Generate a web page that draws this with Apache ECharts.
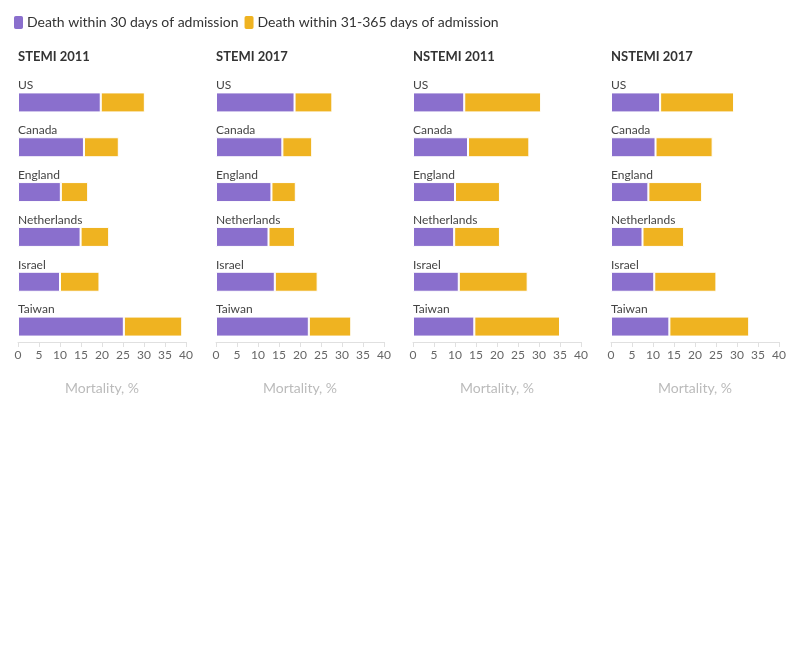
<!DOCTYPE html>
<html><head><meta charset="utf-8">
<script src="https://cdn.jsdelivr.net/npm/echarts@6/dist/echarts.min.js"></script>
<style>html,body{margin:0;padding:0;background:#fff}#c{width:796px;height:650px}</style>
</head><body><div id="c"></div>
<script>
const countries = ['US','Canada','England','Netherlands','Israel','Taiwan'];
const panelTitles = ['STEMI 2011','STEMI 2017','NSTEMI 2011','NSTEMI 2017'];
const seriesNames = ['Death within 30 days of admission','Death within 31-365 days of admission'];
const xTicks = [0,5,10,15,20,25,30,35,40];
// Death within 30 days (%)
const stemi2011_30 = [19.7,15.7,10.2,14.9,10.0,25.2];
const stemi2017_30 = [18.7,15.8,13.2,12.5,14.0,22.1];
const nstemi2011_30 = [12.2,13.1,10.0,9.8,10.9,14.6];
const nstemi2017_30 = [11.7,10.6,8.9,7.5,10.3,13.9];
// Death within 31-365 days (%)
const stemi2011_365 = [10.5,8.3,6.5,6.8,9.4,13.9];
const stemi2017_365 = [9.0,7.1,5.8,6.3,10.2,10.1];
const nstemi2011_365 = [18.3,14.6,10.7,10.9,16.4,20.4];
const nstemi2017_365 = [17.6,13.6,12.8,9.9,14.8,19.0];

const d30 = [stemi2011_30, stemi2017_30, nstemi2011_30, nstemi2017_30];
const d365 = [stemi2011_365, stemi2017_365, nstemi2011_365, nstemi2017_365];
const colors = ['#8a6fcd','#efb321'];
const FONT = 'Lato';
const lefts = [18,216,413,611];
const W = 168;

const grids=[], xAxes=[], yAxes=[], series=[], titles=[];
for (let i=0;i<4;i++){
  grids.push({left:lefts[i], top:80, width:W, height:269, containLabel:false});
  titles.push({text:panelTitles[i], left:lefts[i], top:50, padding:0,
    textStyle:{fontFamily:FONT,fontSize:13,fontWeight:'bold',color:'#333'}});
  xAxes.push({gridIndex:i, type:'value', min:xTicks[0], max:xTicks[xTicks.length-1], interval:5,
    offset:-7,
    axisLine:{show:true,lineStyle:{color:'#e0e0e0'}},
    axisTick:{show:true,length:5,lineStyle:{color:'#e0e0e0'}},
    axisLabel:{fontFamily:FONT,fontSize:12,color:'#666',margin:7},
    splitLine:{show:false},
    name:'Mortality, %', nameLocation:'middle', nameGap:39,
    nameTextStyle:{fontFamily:FONT,fontSize:14,color:'#bbb'}});
  yAxes.push({gridIndex:i, type:'category', data:countries, inverse:true,
    axisLine:{show:false}, axisTick:{show:false},
    axisLabel:{inside:true, margin:0, align:'left', verticalAlign:'bottom',
      padding:[0,0,11,0], fontFamily:FONT, fontSize:12, color:'#444'}});
  for (let s=0;s<2;s++){
    series.push({type:'bar', name:seriesNames[s], xAxisIndex:i, yAxisIndex:i, stack:'p'+i,
      data:(s===0?d30:d365)[i], barWidth:20,
      itemStyle:{color:colors[s], borderColor:'#fff', borderWidth:1},
      emphasis:{disabled:true}, animation:false});
  }
}
const chart = echarts.init(document.getElementById('c'), null, {renderer:'canvas'});
chart.setOption({
  animation:false,
  title:titles,
  legend:{left:12, top:14, padding:0, itemWidth:11, itemHeight:15, itemGap:4,
    icon:'roundRect',
    textStyle:{fontFamily:FONT,fontSize:14,color:'#333',padding:[0,0,0,-2]},
    data:seriesNames},
  grid:grids, xAxis:xAxes, yAxis:yAxes, series:series
});
</script></body></html>
